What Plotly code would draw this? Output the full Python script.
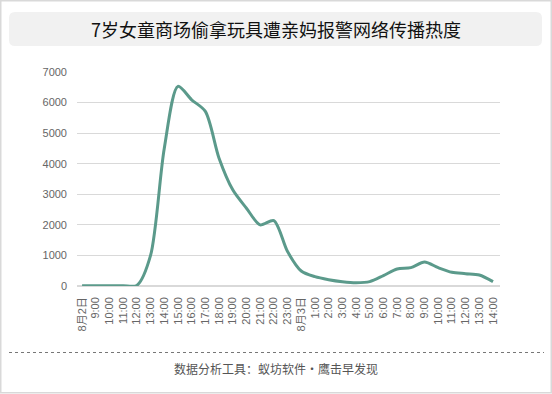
import plotly.graph_objects as go

title = "7岁女童商场偷拿玩具遭亲妈报警网络传播热度"
footer = "数据分析工具：蚁坊软件・鹰击早发现"

categories = ["8月2日", "9:00", "10:00", "11:00", "12:00", "13:00", "14:00", "15:00",
              "16:00", "17:00", "18:00", "19:00", "20:00", "21:00", "22:00", "23:00",
              "8月3日", "1:00", "2:00", "3:00", "4:00", "5:00", "6:00", "7:00",
              "8:00", "9:00", "10:00", "11:00", "12:00", "13:00", "14:00"]
values = [5, 5, 8, 10, 20, 1000, 4500, 6530, 6090, 5710, 4180, 3145, 2545, 2000, 2140, 1125,
          490, 305, 207, 142, 110, 142, 340, 557, 600, 786, 600, 448, 404, 360, 142]
y_ticks = [0, 1000, 2000, 3000, 4000, 5000, 6000, 7000]

W, H = 552, 394
L, R, T, B = 77, 52, 72, 108
PW, PH = W - L - R, H - T - B

def px(x):
    return (x - L) / PW

def py(y):
    return (H - B - y) / PH

def rounded_rect(x0, y0, x1, y1, r):
    rx = r / PW
    ry = r / PH
    X0, X1 = px(x0), px(x1)
    Y0, Y1 = py(y0), py(y1)
    return (f"M {X0+rx},{Y0} L {X1-rx},{Y0} Q {X1},{Y0} {X1},{Y0-ry} "
            f"L {X1},{Y1+ry} Q {X1},{Y1} {X1-rx},{Y1} L {X0+rx},{Y1} "
            f"Q {X0},{Y1} {X0},{Y1+ry} L {X0},{Y0-ry} Q {X0},{Y0} {X0+rx},{Y0} Z")

idx = list(range(len(categories)))

fig = go.Figure()
fig.add_trace(go.Scatter(
    x=idx, y=values, mode="lines",
    line=dict(color="#5b9a8b", width=3, shape="spline", smoothing=0.8),
    hoverinfo="x+y",
))

cjk_font = "Noto Sans CJK SC, Microsoft YaHei, sans-serif"
tick_font = "Liberation Sans, Arial, Noto Sans CJK SC, sans-serif"

shapes = [
    dict(type="rect", xref="paper", yref="paper", x0=px(0.75), x1=px(551.25), y0=py(0.75), y1=py(392.75),
         line=dict(color="#d9d9d9", width=1.5), fillcolor="rgba(0,0,0,0)", layer="below"),
    dict(type="path", xref="paper", yref="paper", path=rounded_rect(9, 12, 542, 46, 6),
         fillcolor="#f1f1f1", line=dict(width=0), layer="below"),
    dict(type="line", xref="paper", yref="paper", x0=px(9), x1=px(544), y0=py(352.5), y1=py(352.5),
         line=dict(color="#777777", width=1, dash="dot")),
]

annotations = [
    dict(text=title, xref="paper", yref="paper", x=px(276), y=py(29), showarrow=False,
         font=dict(size=18, color="#111111", family=cjk_font), xanchor="center", yanchor="middle"),
    dict(text=footer, xref="paper", yref="paper", x=px(276), y=py(368), showarrow=False,
         font=dict(size=12, color="#555555", family=cjk_font), xanchor="center", yanchor="middle"),
]

fig.update_layout(
    width=W, height=H,
    margin=dict(l=L, r=R, t=T, b=B, pad=0),
    paper_bgcolor="white", plot_bgcolor="white",
    showlegend=False,
    shapes=shapes, annotations=annotations,
    font=dict(family=tick_font, color="#666666", size=11),
    xaxis=dict(
        range=[-0.37, 30.51], tickmode="array", tickvals=idx, ticktext=categories,
        tickangle=-90, showgrid=False, zeroline=False, showline=False, ticks="",
        ticklabelstandoff=8,
        tickfont=dict(size=11, color="#666666", family=tick_font), fixedrange=True,
    ),
    yaxis=dict(
        range=[0, 7000], tickmode="array", tickvals=y_ticks,
        showgrid=True, gridcolor="#d9d9d9", gridwidth=1, zeroline=True, zerolinecolor="#d9d9d9",
        showline=False, ticks="", ticklabelstandoff=9,
        tickfont=dict(size=11, color="#666666", family=tick_font), fixedrange=True,
    ),
)

fig.write_html("out.html", config={"displayModeBar": False},
               post_script="document.body.style.margin='0';document.body.style.padding='0';")
